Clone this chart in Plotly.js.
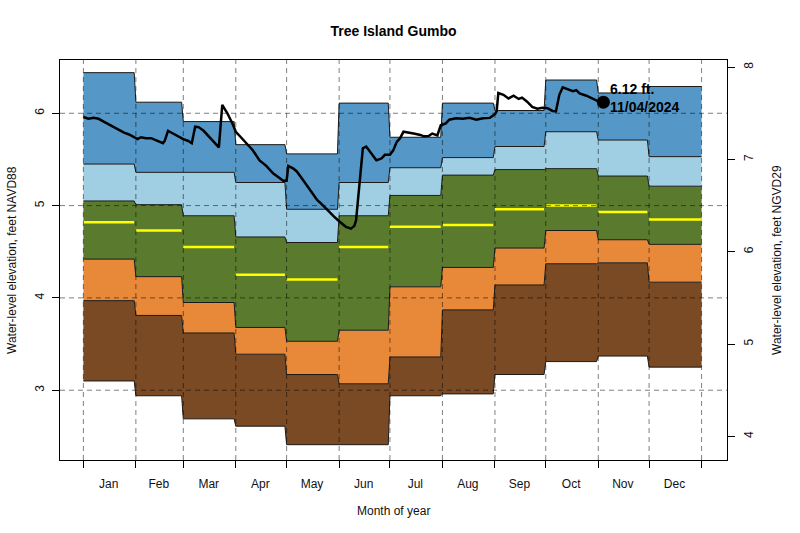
<!DOCTYPE html>
<html>
<head>
<meta charset="utf-8">
<script src="https://cdn.plot.ly/plotly-3.0.1.min.js"></script>
<style>
  html, body { margin: 0; padding: 0; background: #fff; }
  #chart { width: 800px; height: 533px; }
</style>
</head>
<body>
<div id="chart"></div>
<script>
// month layout (day 0 = Jan 1)
var months = ['Jan', 'Feb', 'Mar', 'Apr', 'May', 'Jun', 'Jul', 'Aug', 'Sep', 'Oct', 'Nov', 'Dec'];
var monthStart = [0, 31, 59, 90, 120, 151, 181, 212, 243, 273, 304, 334, 365];

// monthly stats, feet NAVD88
var pMin   = [3.10, 2.94, 2.69, 2.61, 2.41, 2.41, 2.94, 2.96, 3.17, 3.31, 3.37, 3.25];
var p10    = [3.97, 3.81, 3.62, 3.39, 3.17, 3.07, 3.36, 3.87, 4.14, 4.37, 4.38, 4.17];
var p25    = [4.42, 4.23, 3.95, 3.68, 3.53, 3.65, 4.12, 4.33, 4.54, 4.73, 4.63, 4.58];
var median = [4.82, 4.73, 4.55, 4.25, 4.20, 4.55, 4.77, 4.79, 4.96, 5.00, 4.93, 4.85];
var p75    = [5.05, 5.01, 4.89, 4.66, 4.60, 4.89, 5.11, 5.33, 5.39, 5.40, 5.32, 5.21];
var p90    = [5.45, 5.36, 5.36, 5.25, 4.96, 5.25, 5.41, 5.52, 5.64, 5.80, 5.71, 5.53];
var pMax   = [6.44, 6.12, 5.91, 5.66, 5.56, 6.11, 5.74, 6.11, 6.03, 6.36, 6.22, 6.29];

// 2024 daily stage (day of year, ft NAVD88)
var day2024 = [0, 3, 6, 9, 12, 15, 18, 21, 24, 27, 30, 32, 34, 37, 40, 44, 47, 48, 50, 51, 53, 56, 59, 62, 64, 66,
  68, 71, 74, 77, 80, 82, 85, 88, 90, 93, 96, 100, 104, 108, 112, 115, 118, 120, 121, 124, 126, 130, 134, 138,
  141, 145, 148, 151, 155, 158, 160, 161, 162, 163, 164, 165, 167, 170, 173, 176, 178, 181, 183, 185, 187, 189,
  193, 195, 199, 201, 204, 206, 209, 211, 214, 216, 220, 224, 228, 232, 236, 240, 243, 244, 245, 248, 251, 254,
  257, 259, 262, 265, 268, 271, 274, 277, 279, 281, 283, 286, 289, 291, 293, 297, 301, 304, 307];
var level2024 = [5.96, 5.94, 5.95, 5.94, 5.91, 5.88, 5.85, 5.82, 5.79, 5.77, 5.74, 5.72, 5.74, 5.73, 5.73, 5.70, 5.675, 5.70, 5.81, 5.80, 5.78, 5.75, 5.72, 5.70, 5.675, 5.855,
  5.85, 5.81, 5.75, 5.70, 5.63, 6.09, 6.00, 5.89, 5.80, 5.74, 5.675, 5.60, 5.49, 5.43, 5.35, 5.31, 5.27, 5.27, 5.43, 5.40, 5.37, 5.27, 5.17, 5.06,
  5.01, 4.93, 4.88, 4.83, 4.77, 4.75, 4.78, 4.84, 5.05, 5.28, 5.45, 5.62, 5.64, 5.57, 5.49, 5.51, 5.55, 5.55, 5.60, 5.69, 5.73, 5.80,
  5.79, 5.78, 5.765, 5.75, 5.755, 5.78, 5.76, 5.87, 5.89, 5.93, 5.945, 5.94, 5.95, 5.93, 5.945, 5.95, 5.99, 6.02, 6.22, 6.20, 6.16, 6.19,
  6.155, 6.17, 6.125, 6.07, 6.05, 6.06, 6.055, 6.025, 6.02, 6.20, 6.28, 6.26, 6.24, 6.25, 6.215, 6.19, 6.16, 6.13, 6.12];
var lastDate = '11/04/2024';

var yTicks = [3, 4, 5, 6];
var y2Ticks = [4, 5, 6, 7, 8];
var datumShift = 1.5;   // NGVD29 = NAVD88 + 1.5

var xRange = [-13.8, 380];
var yRange = [2.244, 6.577];

// step outline for a monthly series
function steps(vals) {
  var x = [], y = [];
  for (var i = 0; i < 12; i++) {
    var end = i < 11 ? monthStart[i + 1] - 1 : monthStart[12];
    x.push(monthStart[i], end);
    y.push(vals[i], vals[i]);
  }
  return { x: x, y: y };
}

function band(vals, color, fill) {
  var s = steps(vals);
  return {
    x: s.x, y: s.y, type: 'scatter', mode: 'lines',
    line: { color: '#1a1a1a', width: 1 },
    fill: fill ? 'tonexty' : 'none', fillcolor: color,
    hoverinfo: 'skip', showlegend: false
  };
}

var traces = [
  band(pMin, null, false),
  band(p10, '#7a4a24', true),
  band(p25, '#e8893a', true),
  band(p75, '#5a7b2e', true),
  band(p90, '#a0cee2', true),
  band(pMax, '#5597c6', true)
];

// median segments
var mx = [], my = [];
for (var i = 0; i < 12; i++) {
  var end = i < 11 ? monthStart[i + 1] - 1 : monthStart[12];
  mx.push(monthStart[i], end, null);
  my.push(median[i], median[i], null);
}
traces.push({
  x: mx, y: my, type: 'scatter', mode: 'lines',
  line: { color: '#ffff00', width: 2.5 }, hoverinfo: 'skip', showlegend: false
});

// dashed grid drawn over the bands
var gx = [], gy = [];
monthStart.forEach(function (d) { gx.push(d, d, null); gy.push(yRange[0], yRange[1], null); });
yTicks.forEach(function (v) { gx.push(xRange[0], xRange[1], null); gy.push(v, v, null); });
traces.push({
  x: gx, y: gy, type: 'scatter', mode: 'lines',
  line: { color: 'rgba(0,0,0,0.5)', width: 1, dash: '5px,4px' },
  hoverinfo: 'skip', showlegend: false
});

// current year
traces.push({
  x: day2024, y: level2024, type: 'scatter', mode: 'lines',
  line: { color: '#000', width: 2.5 }, showlegend: false
});
var lastX = day2024[day2024.length - 1];
var lastY = level2024[level2024.length - 1];
traces.push({
  x: [lastX], y: [lastY], type: 'scatter', mode: 'markers',
  marker: { color: '#000', size: 13 }, showlegend: false
});

// dummy trace so the right axis is drawn
traces.push({
  x: [lastX], y: [lastY + datumShift], yaxis: 'y2', type: 'scatter', mode: 'markers',
  marker: { opacity: 0 }, hoverinfo: 'skip', showlegend: false
});

var mids = [];
for (var i = 0; i < 12; i++) mids.push((monthStart[i] + monthStart[i + 1] - 1) / 2);

var fontFam = 'Liberation Sans, Arial, sans-serif';

var layout = {
  width: 800, height: 533,
  margin: { l: 60, r: 73, t: 60, b: 73 },
  paper_bgcolor: '#fff', plot_bgcolor: '#fff',
  font: { family: fontFam, size: 12, color: '#000' },
  title: {
    text: '<b>Tree Island Gumbo</b>',
    font: { size: 14, color: '#000' },
    xref: 'paper', x: 0.5, yref: 'container', y: 1 - 31 / 533, yanchor: 'middle'
  },
  xaxis: {
    range: xRange, showgrid: false, zeroline: false,
    showline: true, mirror: true, linecolor: '#000', linewidth: 1,
    tickmode: 'array', tickvals: mids, ticktext: months,
    ticks: 'outside', ticklen: 13, tickcolor: 'rgba(0,0,0,0)',
    minor: { tickmode: 'array', tickvals: monthStart, ticks: 'outside', ticklen: 7, tickcolor: '#000', showgrid: false },
    tickfont: { size: 12, color: '#111' }
  },
  yaxis: {
    range: yRange, showgrid: false, zeroline: false,
    showline: true, mirror: true, linecolor: '#000', linewidth: 1,
    tickmode: 'array', tickvals: yTicks, tickangle: -90,
    ticks: 'outside', ticklen: 7, tickcolor: '#000', ticklabelstandoff: 3,
    tickfont: { size: 12, color: '#111' }
  },
  yaxis2: {
    overlaying: 'y', side: 'right',
    range: [yRange[0] + datumShift, yRange[1] + datumShift],
    showgrid: false, zeroline: false,
    tickmode: 'array', tickvals: y2Ticks, tickangle: -90,
    ticks: 'outside', ticklen: 7, tickcolor: '#000', ticklabelstandoff: 4,
    tickfont: { size: 12, color: '#111' }
  },
  annotations: [
    {
      text: '<b>' + lastY.toFixed(2) + ' ft.<br>' + lastDate + '</b>',
      x: lastX, y: lastY, xref: 'x', yref: 'y',
      xanchor: 'left', yanchor: 'middle', align: 'left',
      xshift: 5, yshift: 4, showarrow: false,
      font: { size: 14, color: '#000' }
    },
    {
      text: 'Month of year', xref: 'paper', yref: 'paper', x: 0.5, y: 0,
      yshift: -51, yanchor: 'middle', showarrow: false, font: { size: 12, color: '#111' }
    },
    {
      text: 'Water-level elevation, feet NAVD88', xref: 'paper', yref: 'paper', x: 0, y: 0.5,
      xshift: -48, textangle: -90, xanchor: 'center', showarrow: false, font: { size: 12, color: '#111' }
    },
    {
      text: 'Water-level elevation, feet NGVD29', xref: 'paper', yref: 'paper', x: 1, y: 0.5,
      xshift: 50, textangle: -90, xanchor: 'center', showarrow: false, font: { size: 12, color: '#111' }
    }
  ]
};

Plotly.newPlot('chart', traces, layout, { displayModeBar: false, staticPlot: true });
</script>
</body>
</html>
